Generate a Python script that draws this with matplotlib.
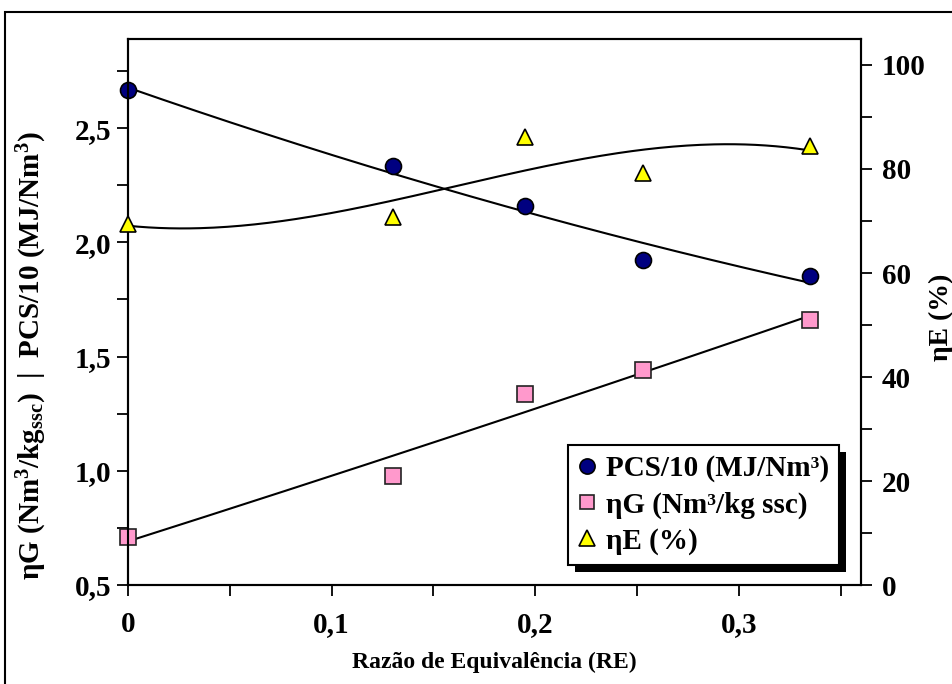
import numpy as np
import matplotlib
matplotlib.use("Agg")
from matplotlib import pyplot as plt
from matplotlib.patches import Rectangle
from matplotlib.ticker import MultipleLocator, FuncFormatter

plt.rcParams['font.family'] = ['Liberation Serif', 'DejaVu Serif']
plt.rcParams['font.weight'] = 'bold'
plt.rcParams['mathtext.fontset'] = 'custom'
plt.rcParams['mathtext.rm'] = 'Liberation Serif:bold'
plt.rcParams['mathtext.it'] = 'Liberation Serif:bold'
plt.rcParams['mathtext.bf'] = 'Liberation Serif:bold'

# data
re = [0, 0.13, 0.195, 0.253, 0.335]
pcs = [2.665, 2.334, 2.159, 1.922, 1.852]
eta_g = [0.71, 0.977, 1.336, 1.44, 1.66]
eta_e = [69.4, 70.8, 86.2, 79.2, 84.4]

fig = plt.figure(figsize=(9.53, 6.84), dpi=100)
ax = fig.add_axes([0.1343, 0.1447, 0.7692, 0.7983])
ax2 = ax.twinx()

# trendlines (polynomial, as in the spreadsheet)
xs = np.linspace(0, re[-1], 200)
for ys, deg, a in [(pcs, 2, ax), (eta_g, 2, ax), (eta_e, 3, ax2)]:
    c = np.polyfit(re, ys, deg)
    a.plot(xs, np.polyval(c, xs), color='black', lw=1.5, zorder=2)

ms = 11.5
l1, = ax.plot(re, pcs, 'o', ms=ms, mfc='#000080', mec='black', mew=1.2,
              clip_on=False, zorder=5, label='PCS/10 (MJ/Nm³)')
l2, = ax.plot(re, eta_g, 's', ms=ms - 0.5, mfc='#FF99CC', mec='#222222', mew=1.2,
              clip_on=False, zorder=5, label='ηG (Nm³/kg ssc)')
l3, = ax2.plot(re, eta_e, '^', ms=ms, mfc='#FFFF00', mec='black', mew=1.2,
               clip_on=False, zorder=5, label='ηE (%)')

ax.set_xlim(0, 0.36)
ax.set_ylim(0.5, 2.89)
ax2.set_ylim(0, 105)

ax.xaxis.set_major_locator(MultipleLocator(0.1))
ax.xaxis.set_minor_locator(MultipleLocator(0.05))
ax.yaxis.set_major_locator(MultipleLocator(0.5))
ax.yaxis.set_minor_locator(MultipleLocator(0.25))
ax2.yaxis.set_major_locator(MultipleLocator(20))
ax2.yaxis.set_minor_locator(MultipleLocator(10))

ax.xaxis.set_major_formatter(FuncFormatter(lambda v, p: '0' if abs(v) < 1e-9 else f'{v:.1f}'.replace('.', ',')))
ax.yaxis.set_major_formatter(FuncFormatter(lambda v, p: f'{v:.1f}'.replace('.', ',')))

for a in (ax, ax2):
    a.tick_params(which='both', direction='out', length=8, width=1.3, labelsize=21)
    for s in a.spines.values():
        s.set_linewidth(1.5)
ax.tick_params(axis='x', which='both', pad=11)
ax.tick_params(axis='y', which='both', pad=4)
ax2.tick_params(axis='y', which='both', pad=7)

ax.set_xlabel('Razão de Equivalência (RE)', fontsize=17, fontweight='bold', labelpad=10)
ax.set_ylabel(r'ηG (Nm$^3$/kg$_{ssc}$)  |  PCS/10 (MJ/Nm$^3$)', fontsize=21, fontweight='bold')
ax.yaxis.set_label_coords(-0.108, 0.42)
ax2.set_ylabel('ηE (%)', fontsize=20, fontweight='bold')
ax2.yaxis.set_label_coords(1.093, 0.49)

leg = ax2.legend(handles=[l1, l2, l3], loc='lower right', bbox_to_anchor=(0.970, 0.037),
                 fontsize=21, frameon=True, fancybox=False, edgecolor='black',
                 framealpha=1, markerscale=0.95, handlelength=0.6, handletextpad=0.35,
                 borderpad=0.35, labelspacing=0.3, borderaxespad=0)
leg.get_frame().set_linewidth(1.5)
leg.set_zorder(10)

# drop shadow behind the legend
fig.canvas.draw()
bb = leg.get_window_extent()
shadow = Rectangle((bb.x0 + 7, bb.y0 - 7), bb.width, bb.height, transform=None,
                   facecolor='black', edgecolor='none', zorder=9)
ax2.add_artist(shadow)

# outer frame
fig.patches.append(Rectangle((5 / 953, -0.05), 1.2, 1 - 12 / 684 + 0.05, transform=fig.transFigure,
                             fill=False, edgecolor='black', lw=1.5))

fig.savefig('out.png', dpi=100)
